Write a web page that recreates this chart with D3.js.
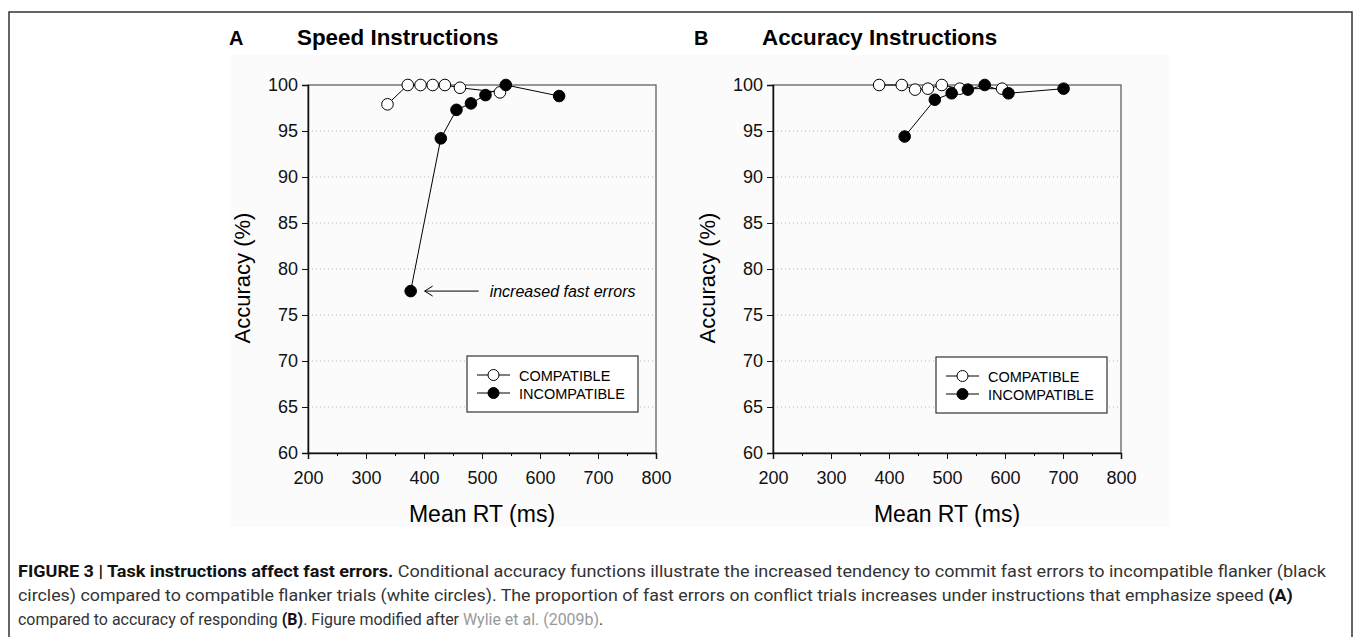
<!DOCTYPE html>
<html>
<head>
<meta charset="utf-8">
<script src="https://cdn.jsdelivr.net/npm/d3@7"></script>
<style>
  body { margin: 0; background: #fff; }
  svg { display: block; font-family: "Liberation Sans", Arial, sans-serif; }
</style>
</head>
<body>
<svg id="fig" width="1355" height="637"></svg>
<script>
// panel A: speed instructions
var speedCompatRT  = [337, 372, 394, 415, 436, 462, 531];
var speedCompatAcc = [97.9, 100, 100, 100, 100, 99.7, 99.2];
var speedIncompRT  = [377, 429, 456, 481, 506, 541, 633];
var speedIncompAcc = [77.6, 94.2, 97.3, 98.0, 98.9, 100, 98.8];

// panel B: accuracy instructions
var accCompatRT  = [383, 422, 445, 467, 491, 522, 595];
var accCompatAcc = [100, 100, 99.5, 99.6, 100, 99.6, 99.6];
var accIncompRT  = [427, 479, 508, 536, 565, 606, 701];
var accIncompAcc = [94.4, 98.4, 99.1, 99.5, 100, 99.1, 99.6];

var xTicks = [200, 300, 400, 500, 600, 700, 800];
var xMinor = [250, 350, 450, 550, 650, 750];
var yTicks = [60, 65, 70, 75, 80, 85, 90, 95, 100];
var seriesNames = ["COMPATIBLE", "INCOMPATIBLE"];

var FONT = "'Liberation Sans', Arial, sans-serif";
var svg = d3.select("#fig");

// outer frame of the figure
svg.append("rect")
    .attr("x", 9).attr("y", 12)
    .attr("width", 1343).attr("height", 640)
    .attr("fill", "none").attr("stroke", "#333").attr("stroke-width", 1.5);

// faint grey of the pasted chart image
svg.append("rect")
    .attr("x", 230).attr("y", 55)
    .attr("width", 940).attr("height", 472)
    .attr("fill", "#fbfbfb");

function drawPanel(left, top, letter, title, compat, incomp, legendPos, note) {
    var w = 348, h = 368;
    var x = d3.scaleLinear().domain([200, 800]).range([0, w]);
    var y = d3.scaleLinear().domain([60, 100]).range([h, 0]);

    var g = svg.append("g")
        .attr("transform", "translate(" + left + "," + top + ")")
        .attr("font-family", FONT);

    // titles
    g.append("text")
        .attr("x", -79).attr("y", -40)
        .attr("font-size", 20).attr("font-weight", "bold")
        .text(letter);
    g.append("text")
        .attr("x", -11).attr("y", -40)
        .attr("font-size", 22.4).attr("font-weight", "bold")
        .text(title);

    // dotted grid
    g.selectAll(".grid")
        .data(yTicks.filter(function (d) { return d > 60 && d < 100; }))
        .enter().append("line")
        .attr("x1", 0).attr("x2", w)
        .attr("y1", function (d) { return y(d); })
        .attr("y2", function (d) { return y(d); })
        .attr("stroke", "#bbb")
        .attr("stroke-dasharray", "1,3");

    // frame (top and right)
    g.append("rect")
        .attr("width", w).attr("height", h)
        .attr("fill", "none").attr("stroke", "#555").attr("stroke-width", 1.2);

    // axes
    var yAxis = d3.axisLeft(y).tickValues(yTicks).tickSize(6).tickPadding(4)
        .tickFormat(d3.format("d"));
    var ya = g.append("g").call(yAxis);

    var xAxis = d3.axisBottom(x).tickValues(xTicks).tickSize(6).tickPadding(12)
        .tickFormat(d3.format("d"));
    var xa = g.append("g").attr("transform", "translate(0," + h + ")").call(xAxis);

    g.append("g").attr("transform", "translate(0," + h + ")")
        .call(d3.axisBottom(x).tickValues(xMinor).tickSize(3).tickFormat(""))
        .select(".domain").remove();

    [ya, xa].forEach(function (a) {
        a.attr("font-family", FONT).attr("font-size", 18);
        a.selectAll("text").attr("fill", "#111");
        a.select(".domain").attr("stroke", "#111").attr("stroke-width", 1.5);
        a.selectAll(".tick line").attr("stroke", "#111");
    });

    // axis titles
    g.append("text")
        .attr("transform", "translate(-58," + (h / 2 + 9) + ") rotate(-90)")
        .attr("text-anchor", "middle")
        .attr("font-size", 22)
        .text("Accuracy (%)");
    g.append("text")
        .attr("x", w / 2).attr("y", h + 69)
        .attr("text-anchor", "middle")
        .attr("font-size", 23)
        .text("Mean RT (ms)");

    var line = d3.line()
        .x(function (d) { return x(d[0]); })
        .y(function (d) { return y(d[1]); });

    var series = [
        { pts: d3.zip(compat[0], compat[1]), fill: "#fff" },
        { pts: d3.zip(incomp[0], incomp[1]), fill: "#000" }
    ];

    series.forEach(function (s) {
        g.append("path")
            .datum(s.pts)
            .attr("d", line)
            .attr("fill", "none")
            .attr("stroke", "#000")
            .attr("stroke-width", 1);
    });
    series.forEach(function (s) {
        g.selectAll(null)
            .data(s.pts)
            .enter().append("circle")
            .attr("cx", function (d) { return x(d[0]); })
            .attr("cy", function (d) { return y(d[1]); })
            .attr("r", 5.8)
            .attr("fill", s.fill)
            .attr("stroke", "#000")
            .attr("stroke-width", 1);
    });

    // legend
    var lg = g.append("g").attr("transform", "translate(" + legendPos[0] + "," + legendPos[1] + ")");
    lg.append("rect")
        .attr("width", 171).attr("height", 56)
        .attr("fill", "#fff").attr("stroke", "#333").attr("stroke-width", 1.2);
    seriesNames.forEach(function (name, i) {
        var ry = 19 + i * 18;
        lg.append("line")
            .attr("x1", 10).attr("x2", 43)
            .attr("y1", ry).attr("y2", ry)
            .attr("stroke", "#000");
        lg.append("circle")
            .attr("cx", 26.5).attr("cy", ry).attr("r", 5.5)
            .attr("fill", series[i].fill).attr("stroke", "#000");
        lg.append("text")
            .attr("x", 52).attr("y", ry + 5.5)
            .attr("font-size", 14.5)
            .text(name);
    });

    if (note) {
        var ny = y(note.acc);
        var nx = x(note.rt);
        g.append("line")
            .attr("x1", nx + 14).attr("x2", nx + 68)
            .attr("y1", ny).attr("y2", ny)
            .attr("stroke", "#000");
        g.append("path")
            .attr("d", "M" + (nx + 22) + "," + (ny - 5) + "L" + (nx + 14) + "," + ny + "L" + (nx + 22) + "," + (ny + 5))
            .attr("fill", "none").attr("stroke", "#000");
        g.append("text")
            .attr("x", nx + 79).attr("y", ny + 5.5)
            .attr("font-size", 16).attr("font-style", "italic")
            .text(note.text);
    }
}

drawPanel(308, 85, "A", "Speed Instructions",
    [speedCompatRT, speedCompatAcc], [speedIncompRT, speedIncompAcc],
    [159, 271], { rt: speedIncompRT[0], acc: speedIncompAcc[0], text: "increased fast errors" });

drawPanel(773, 85, "B", "Accuracy Instructions",
    [accCompatRT, accCompatAcc], [accIncompRT, accIncompAcc],
    [163, 272], null);

// caption: condensed face imitated by squeezing each line horizontally
var cap = svg.append("g")
    .attr("font-family", "Roboto, 'Noto Sans', sans-serif")
    .attr("font-size", 16)
    .attr("fill", "#333");

function capLine(y, width, parts) {
    var t = cap.append("text").attr("x", 0).attr("y", 0);
    parts.forEach(function (p) {
        var s = t.append("tspan").text(p.text);
        if (p.bold) s.attr("font-weight", "bold").attr("fill", "#111");
        if (p.link) s.attr("fill", "#999");
    });
    var natural = t.node().getComputedTextLength();
    t.attr("transform", "translate(18," + y + ") scale(" + (width / natural) + ",1)");
}

capLine(577, 1309, [
    { text: "FIGURE 3 | Task instructions affect fast errors.", bold: true },
    { text: " Conditional accuracy functions illustrate the increased tendency to commit fast errors to incompatible flanker (black" }
]);
capLine(601, 1276, [
    { text: "circles) compared to compatible flanker trials (white circles). The proportion of fast errors on conflict trials increases under instructions that emphasize speed " },
    { text: "(A)", bold: true }
]);
capLine(625, 586, [
    { text: "compared to accuracy of responding " },
    { text: "(B)", bold: true },
    { text: ". Figure modified after " },
    { text: "Wylie et al. (2009b)", link: true },
    { text: "." }
]);
</script>
</body>
</html>
